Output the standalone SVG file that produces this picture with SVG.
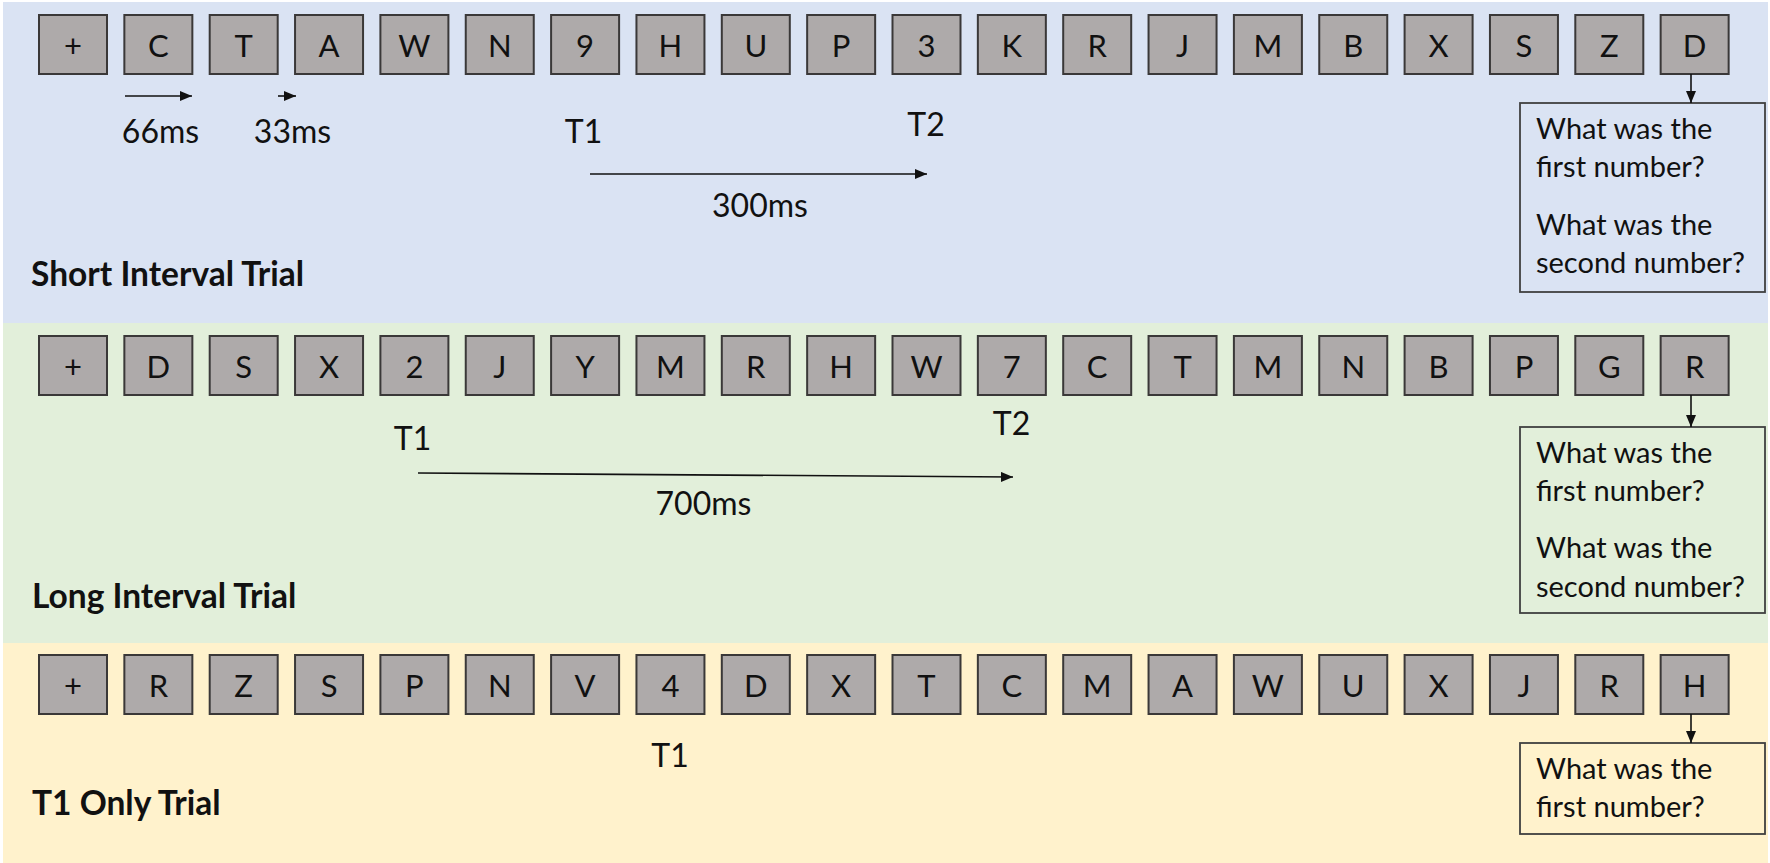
<svg xmlns="http://www.w3.org/2000/svg" width="1770" height="863" viewBox="0 0 1770 863">
<defs>
<style>
.bg{stroke:none}
.box{fill:#AEAAAA;stroke:#3A3838;stroke-width:2}
.bt{font-family:Lato,"Liberation Sans",sans-serif;font-size:31px;fill:#111;text-anchor:middle}
.lbl{font-family:Lato,"Liberation Sans",sans-serif;font-size:32px;fill:#111}
.mid{text-anchor:middle}
.ttl{font-family:Lato,"Liberation Sans",sans-serif;font-size:33.5px;font-weight:bold;fill:#111}
.q{fill:none;stroke:#404040;stroke-width:1.8}
.qt{font-family:Lato,"Liberation Sans",sans-serif;font-size:29px;fill:#111}
.arr{stroke:#111;stroke-width:1.6;fill:none;marker-end:url(#ah)}
</style>
<marker id="ah" viewBox="0 0 12 10" refX="12" refY="5" markerWidth="12" markerHeight="10" markerUnits="userSpaceOnUse" orient="auto">
<path d="M0,0 L12,5 L0,10 z" fill="#111"/>
</marker>
<g id="b">
<rect class="box" x="0" y="0" width="68" height="59"/>
</g>
</defs>
<rect x="0" y="0" width="1770" height="863" fill="#ffffff"/>
<g id="panel-short">
<rect class="bg" x="3" y="2" width="1765" height="321" fill="#DAE3F3"/>
<text class="ttl" x="31" y="286">Short Interval Trial</text>
</g>
<g id="panel-long">
<rect class="bg" x="3" y="323" width="1765" height="320" fill="#E2EFDA"/>
<text class="ttl" x="32" y="608">Long Interval Trial</text>
</g>
<g id="panel-t1only">
<rect class="bg" x="3" y="643" width="1765" height="220" fill="#FFF2CC"/>
<text class="ttl" x="32" y="815">T1 Only Trial</text>
</g>

<g id="row-short">
<g id="s1"><use href="#b" x="39" y="15"/><text class="bt" x="73" y="57">+</text></g>
<g id="s2"><use href="#b" x="124.35" y="15"/><text class="bt" x="158.35" y="57">C</text></g>
<g id="s3"><use href="#b" x="209.7" y="15"/><text class="bt" x="243.7" y="57">T</text></g>
<g id="s4"><use href="#b" x="295.05" y="15"/><text class="bt" x="329.05" y="57">A</text></g>
<g id="s5"><use href="#b" x="380.4" y="15"/><text class="bt" x="414.4" y="57">W</text></g>
<g id="s6"><use href="#b" x="465.75" y="15"/><text class="bt" x="499.75" y="57">N</text></g>
<g id="s7"><use href="#b" x="551.1" y="15"/><text class="bt" x="585.1" y="57">9</text></g>
<g id="s8"><use href="#b" x="636.45" y="15"/><text class="bt" x="670.45" y="57">H</text></g>
<g id="s9"><use href="#b" x="721.8" y="15"/><text class="bt" x="755.8" y="57">U</text></g>
<g id="s10"><use href="#b" x="807.15" y="15"/><text class="bt" x="841.15" y="57">P</text></g>
<g id="s11"><use href="#b" x="892.5" y="15"/><text class="bt" x="926.5" y="57">3</text></g>
<g id="s12"><use href="#b" x="977.85" y="15"/><text class="bt" x="1011.85" y="57">K</text></g>
<g id="s13"><use href="#b" x="1063.2" y="15"/><text class="bt" x="1097.2" y="57">R</text></g>
<g id="s14"><use href="#b" x="1148.55" y="15"/><text class="bt" x="1182.55" y="57">J</text></g>
<g id="s15"><use href="#b" x="1233.9" y="15"/><text class="bt" x="1267.9" y="57">M</text></g>
<g id="s16"><use href="#b" x="1319.25" y="15"/><text class="bt" x="1353.25" y="57">B</text></g>
<g id="s17"><use href="#b" x="1404.6" y="15"/><text class="bt" x="1438.6" y="57">X</text></g>
<g id="s18"><use href="#b" x="1489.95" y="15"/><text class="bt" x="1523.95" y="57">S</text></g>
<g id="s19"><use href="#b" x="1575.3" y="15"/><text class="bt" x="1609.3" y="57">Z</text></g>
<g id="s20"><use href="#b" x="1660.65" y="15"/><text class="bt" x="1694.65" y="57">D</text></g>
</g>

<g id="row-long">
<g id="l1"><use href="#b" x="39" y="336"/><text class="bt" x="73" y="378">+</text></g>
<g id="l2"><use href="#b" x="124.35" y="336"/><text class="bt" x="158.35" y="378">D</text></g>
<g id="l3"><use href="#b" x="209.7" y="336"/><text class="bt" x="243.7" y="378">S</text></g>
<g id="l4"><use href="#b" x="295.05" y="336"/><text class="bt" x="329.05" y="378">X</text></g>
<g id="l5"><use href="#b" x="380.4" y="336"/><text class="bt" x="414.4" y="378">2</text></g>
<g id="l6"><use href="#b" x="465.75" y="336"/><text class="bt" x="499.75" y="378">J</text></g>
<g id="l7"><use href="#b" x="551.1" y="336"/><text class="bt" x="585.1" y="378">Y</text></g>
<g id="l8"><use href="#b" x="636.45" y="336"/><text class="bt" x="670.45" y="378">M</text></g>
<g id="l9"><use href="#b" x="721.8" y="336"/><text class="bt" x="755.8" y="378">R</text></g>
<g id="l10"><use href="#b" x="807.15" y="336"/><text class="bt" x="841.15" y="378">H</text></g>
<g id="l11"><use href="#b" x="892.5" y="336"/><text class="bt" x="926.5" y="378">W</text></g>
<g id="l12"><use href="#b" x="977.85" y="336"/><text class="bt" x="1011.85" y="378">7</text></g>
<g id="l13"><use href="#b" x="1063.2" y="336"/><text class="bt" x="1097.2" y="378">C</text></g>
<g id="l14"><use href="#b" x="1148.55" y="336"/><text class="bt" x="1182.55" y="378">T</text></g>
<g id="l15"><use href="#b" x="1233.9" y="336"/><text class="bt" x="1267.9" y="378">M</text></g>
<g id="l16"><use href="#b" x="1319.25" y="336"/><text class="bt" x="1353.25" y="378">N</text></g>
<g id="l17"><use href="#b" x="1404.6" y="336"/><text class="bt" x="1438.6" y="378">B</text></g>
<g id="l18"><use href="#b" x="1489.95" y="336"/><text class="bt" x="1523.95" y="378">P</text></g>
<g id="l19"><use href="#b" x="1575.3" y="336"/><text class="bt" x="1609.3" y="378">G</text></g>
<g id="l20"><use href="#b" x="1660.65" y="336"/><text class="bt" x="1694.65" y="378">R</text></g>
</g>

<g id="row-t1only">
<g id="o1"><use href="#b" x="39" y="655"/><text class="bt" x="73" y="697">+</text></g>
<g id="o2"><use href="#b" x="124.35" y="655"/><text class="bt" x="158.35" y="697">R</text></g>
<g id="o3"><use href="#b" x="209.7" y="655"/><text class="bt" x="243.7" y="697">Z</text></g>
<g id="o4"><use href="#b" x="295.05" y="655"/><text class="bt" x="329.05" y="697">S</text></g>
<g id="o5"><use href="#b" x="380.4" y="655"/><text class="bt" x="414.4" y="697">P</text></g>
<g id="o6"><use href="#b" x="465.75" y="655"/><text class="bt" x="499.75" y="697">N</text></g>
<g id="o7"><use href="#b" x="551.1" y="655"/><text class="bt" x="585.1" y="697">V</text></g>
<g id="o8"><use href="#b" x="636.45" y="655"/><text class="bt" x="670.45" y="697">4</text></g>
<g id="o9"><use href="#b" x="721.8" y="655"/><text class="bt" x="755.8" y="697">D</text></g>
<g id="o10"><use href="#b" x="807.15" y="655"/><text class="bt" x="841.15" y="697">X</text></g>
<g id="o11"><use href="#b" x="892.5" y="655"/><text class="bt" x="926.5" y="697">T</text></g>
<g id="o12"><use href="#b" x="977.85" y="655"/><text class="bt" x="1011.85" y="697">C</text></g>
<g id="o13"><use href="#b" x="1063.2" y="655"/><text class="bt" x="1097.2" y="697">M</text></g>
<g id="o14"><use href="#b" x="1148.55" y="655"/><text class="bt" x="1182.55" y="697">A</text></g>
<g id="o15"><use href="#b" x="1233.9" y="655"/><text class="bt" x="1267.9" y="697">W</text></g>
<g id="o16"><use href="#b" x="1319.25" y="655"/><text class="bt" x="1353.25" y="697">U</text></g>
<g id="o17"><use href="#b" x="1404.6" y="655"/><text class="bt" x="1438.6" y="697">X</text></g>
<g id="o18"><use href="#b" x="1489.95" y="655"/><text class="bt" x="1523.95" y="697">J</text></g>
<g id="o19"><use href="#b" x="1575.3" y="655"/><text class="bt" x="1609.3" y="697">R</text></g>
<g id="o20"><use href="#b" x="1660.65" y="655"/><text class="bt" x="1694.65" y="697">H</text></g>
</g>

<g id="q-short">
<rect class="q" x="1520" y="103" width="245" height="189"/>
<text class="qt" x="1536" y="139">What was the</text>
<text class="qt" x="1536" y="177">first number?</text>
<text class="qt" x="1536" y="235">What was the</text>
<text class="qt" x="1536" y="273">second number?</text>
</g>
<g id="q-long">
<rect class="q" x="1520" y="427" width="245" height="186"/>
<text class="qt" x="1536" y="463">What was the</text>
<text class="qt" x="1536" y="501">first number?</text>
<text class="qt" x="1536" y="558">What was the</text>
<text class="qt" x="1536" y="597">second number?</text>
</g>
<g id="q-t1only">
<rect class="q" x="1520" y="743" width="245" height="91"/>
<text class="qt" x="1536" y="779">What was the</text>
<text class="qt" x="1536" y="817">first number?</text>
</g>

<g id="labels">
<text class="lbl mid" x="160.5" y="143">66ms</text>
<text class="lbl mid" x="292.5" y="143">33ms</text>
<text class="lbl mid" x="583.5" y="143">T1</text>
<text class="lbl mid" x="926" y="136">T2</text>
<text class="lbl mid" x="760" y="217">300ms</text>
<text class="lbl mid" x="412.5" y="450">T1</text>
<text class="lbl mid" x="1011.5" y="435">T2</text>
<text class="lbl mid" x="703.5" y="515">700ms</text>
<text class="lbl mid" x="670" y="767">T1</text>
</g>

<g id="connectors">
<line class="arr" x1="125" y1="96" x2="192" y2="96"/>
<line class="arr" x1="278" y1="96" x2="296" y2="96"/>
<line class="arr" x1="590" y1="174" x2="927" y2="174"/>
<line class="arr" x1="418" y1="473" x2="1013" y2="477"/>
<line class="arr" x1="1691" y1="74" x2="1691" y2="103"/>
<line class="arr" x1="1691" y1="395" x2="1691" y2="427"/>
<line class="arr" x1="1691" y1="714" x2="1691" y2="743"/>
</g>
</svg>
